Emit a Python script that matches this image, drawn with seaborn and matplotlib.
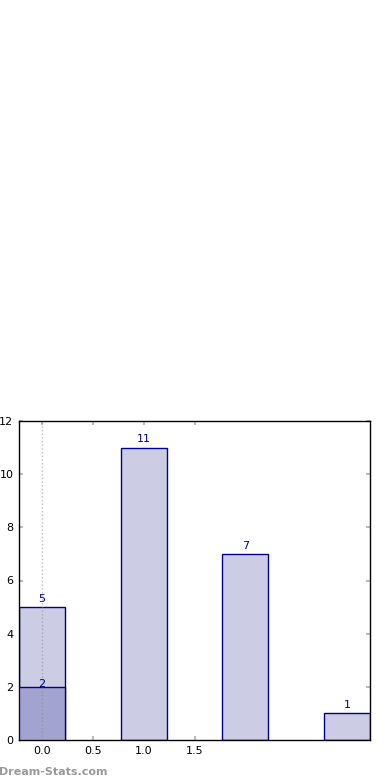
import matplotlib
matplotlib.use("Agg")
import matplotlib.pyplot as plt
import seaborn as sns
import pandas as pd

positions = [0, 1, 2, 3]
counts = [5, 11, 7, 1]
overlay_positions = [0]
overlay_counts = [2]
xticks = [0.0, 0.5, 1.0, 1.5]
yticks = [0, 2, 4, 6, 8, 10, 12]

sns.set_style("white")
plt.rcParams['font.family'] = ['DejaVu Sans']

fig = plt.figure(figsize=(3.9, 7.8), dpi=100)
ax = fig.add_axes([19/390, 40/780, 351/390, 319/780])

df = pd.DataFrame({"x": positions, "y": counts})
dfo = pd.DataFrame({"x": overlay_positions, "y": overlay_counts})

navy = "#00008B"
sns.barplot(data=df, x="x", y="y", native_scale=True, width=0.45,
            color="#ccccE5", saturation=1, edgecolor=navy, linewidth=1, ax=ax, zorder=2)
sns.barplot(data=dfo, x="x", y="y", native_scale=True, width=0.45,
            color="#a3a3cf", saturation=1, edgecolor=navy, linewidth=1, ax=ax, zorder=3)
ax.axvline(0, color="#888888", alpha=0.55, linestyle=":", linewidth=1, zorder=4)

for xv, yv in zip(positions, counts):
    ax.text(xv, yv + 0.12, str(yv), ha="center", va="bottom", fontsize=8, color=navy, zorder=5)
for xv, yv in zip(overlay_positions, overlay_counts):
    ax.text(xv, yv - 0.1, str(yv), ha="center", va="bottom", fontsize=8, color=navy, zorder=5)

ax.set_xlim(-0.225, 3.225)
ax.set_ylim(0, 12)
ax.set_xticks(xticks)
ax.set_xticklabels([f"{t:.1f}" for t in xticks])
ax.set_yticks(yticks)
ax.set_xlabel("")
ax.set_ylabel("")
ax.tick_params(direction="in", length=3, width=1.5, color="#bbbbbb", labelsize=8,
               top=True, right=True, bottom=True, left=True, pad=4, labelcolor="black")
for s in ax.spines.values():
    s.set_visible(True)
    s.set_color("black")
    s.set_linewidth(1)

fig.text(-0.003, 0.004, "Dream-Stats.com", fontsize=8, color="#999999", fontweight="bold",
         ha="left", va="bottom")

fig.savefig("out.png", dpi=100)
